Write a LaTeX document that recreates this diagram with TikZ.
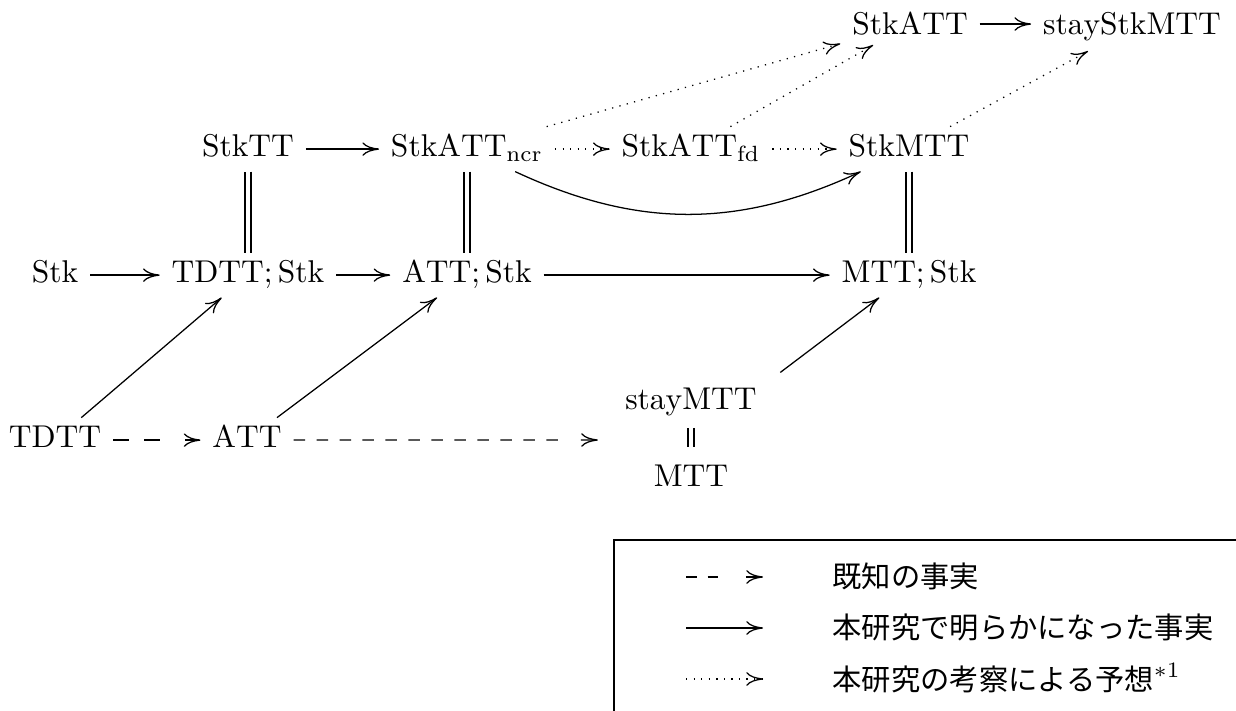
\documentclass[tikz,border=0pt]{standalone}
\usepackage{fontspec}
\newfontfamily\jp{Noto Sans CJK JP}
\usetikzlibrary{arrows.meta}
\begin{document}
\begin{tikzpicture}[x=0.3175pt,y=-0.3175pt,
  cell/.style={anchor=base, text height=6.94pt, text depth=1.94pt, inner xsep=3.6pt, inner ysep=2.5pt},
  topcell/.style={cell, inner ysep=3pt},
  solidar/.style={-{Computer Modern Rightarrow[length=5.3pt,width=4.3pt]}, line width=0.4pt},
  dashshort/.style={solidar, dash pattern=on 4.9pt off 5pt on 4.9pt off 8pt on 100pt},
  dashlegend/.style={solidar, dash pattern=on 3.4pt off 3.5pt on 3.4pt off 8.9pt on 100pt},
  dashlong/.style={solidar, dash pattern=on 3.65pt off 3.65pt on 3.65pt off 3.65pt on 3.65pt off 3.65pt on 3.65pt off 3.65pt on 3.65pt off 3.65pt on 3.65pt off 3.65pt on 3.65pt off 3.65pt on 3.65pt off 3.65pt on 3.65pt off 3.65pt on 3.65pt off 3.65pt on 3.65pt off 3.65pt on 3.65pt off 7.3pt on 100pt},
  dotar/.style={solidar, dotted},
  eq/.style={double, double distance=1.5pt, line width=0.4pt},
  legtext/.style={anchor=base west, inner sep=0pt, font=\jp\fontsize{9.3pt}{11pt}\selectfont}
]
\useasboundingbox (0,0) rectangle (1236,711);
% row 1
\node[topcell, text depth=0pt] (satt) at (910,35) {$\mathrm{StkATT}$};
\node[topcell] (sstk) at (1132,35) {$\mathrm{stayStkMTT}$};
% row 2
\node[cell] (stt) at (248,157) {$\mathrm{StkTT}$};
\node[cell] (sncr) at (467,157) {$\mathrm{StkATT}_{\mathrm{ncr}}$};
\node[cell] (sfd) at (691,157) {$\mathrm{StkATT}_{\mathrm{fd}}$};
\node[cell] (smtt) at (909,157) {$\mathrm{StkMTT}$};
% row 3
\node[cell] (stk) at (55,283) {$\mathrm{Stk}$};
\node[cell] (tstk) at (248,283) {$\mathrm{TDTT};\mathrm{Stk}$};
\node[cell] (astk) at (467,283) {$\mathrm{ATT};\mathrm{Stk}$};
\node[cell] (mstk) at (909,283) {$\mathrm{MTT};\mathrm{Stk}$};
% row 4
\node[cell] (tdtt) at (55,448) {$\mathrm{TDTT}$};
\node[cell] (att) at (247,448) {$\mathrm{ATT}$};
\node[minimum width=58.7pt, minimum height=42.5pt, inner sep=0pt] (stack) at (691,440) {};
\node[cell] (stay) at (691,410) {$\mathrm{stayMTT}$};
\node[cell] (mtt) at (691,487) {$\mathrm{MTT}$};

% arrows
\draw[solidar] (satt.east) -- (satt.east -| sstk.west);
\draw[solidar] (stt) -- (sncr);
\draw[dotar] (sncr) -- (sfd);
\draw[dotar] (sfd) -- (smtt);
\draw[dotar] (sncr) -- (satt);
\draw[dotar] (sfd) -- (satt);
\draw[dotar] (smtt) -- (sstk);
\draw[solidar] (sncr) to[bend right=25] (smtt);
\draw[eq] (stt) -- (tstk);
\draw[eq] (sncr) -- (astk);
\draw[eq] (smtt) -- (mstk);
\draw[solidar] (stk) -- (tstk);
\draw[solidar] (tstk) -- (astk);
\draw[solidar] (astk) -- (mstk);
\draw[solidar] (tdtt) -- (tstk);
\draw[solidar] (att) -- (astk);
\draw[solidar] (stack) -- (mstk);
\draw[dashshort] (tdtt) -- (att);
\draw[dashlong] (att) -- (stack);
\draw[eq] ([shift={(0,428-410)}]stay.base) -- ([shift={(0,447-487)}]mtt.base);

% legend
\draw[line width=0.4pt] (1245,540) -- (614,540) -- (614,720);
\coordinate (l1s) at (686,577); \coordinate (l1e) at (763,577);
\coordinate (l2s) at (686,628); \coordinate (l2e) at (763,628);
\coordinate (l3s) at (686,679); \coordinate (l3e) at (763,679);
\draw[dashlegend] (l1s) -- (l1e);
\draw[solidar] (l2s) -- (l2e);
\draw[dotar] (l3s) -- (l3e);
\node[legtext] (t1) at (832,588) {既知の事実};
\node[legtext] (t2) at (832,639) {本研究で明らかになった事実};
\node[legtext] (t3) at (832,690) {本研究の考察による予想\rmfamily$^{*1}$};
\end{tikzpicture}
\end{document}
